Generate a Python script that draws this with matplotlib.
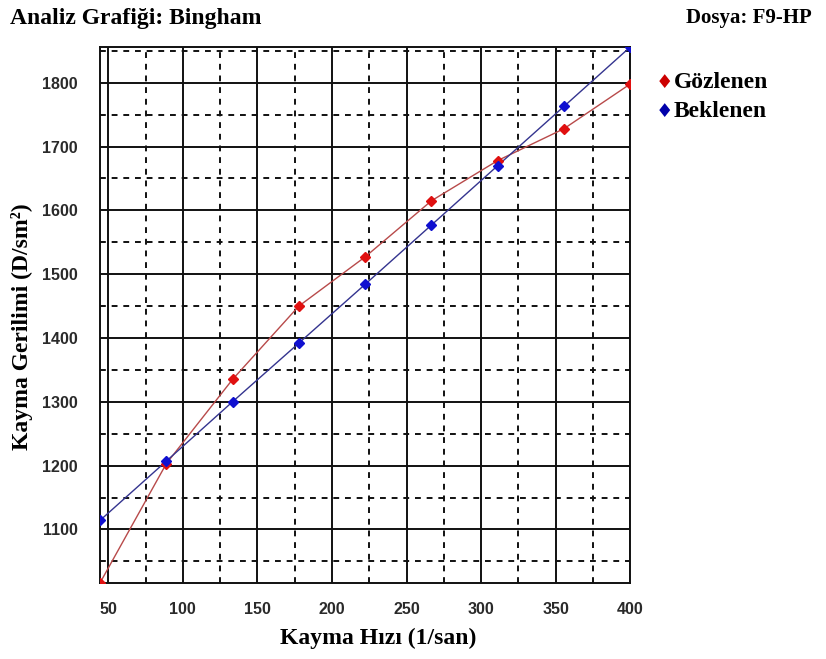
import numpy as np
import matplotlib.pyplot as plt
from matplotlib.ticker import MultipleLocator

# shear rate (1/san) and shear stress (D/sm2)
kayma_hizi = [44.4, 88.9, 133.3, 177.8, 222.2, 266.7, 311.1, 355.6, 400.0]
gozlenen = [1016, 1203, 1335, 1450, 1527, 1615, 1678, 1728, 1798]
beklenen = [1114, 1207, 1300, 1392, 1484, 1577, 1670, 1763, 1856]

x_ticks = [50, 100, 150, 200, 250, 300, 350, 400]
y_ticks = [1100, 1200, 1300, 1400, 1500, 1600, 1700, 1800]

serif = 'Liberation Serif'

fig = plt.figure(figsize=(8.26, 6.59), dpi=100)
ax = fig.add_axes([0.121, 0.1153, 0.642, 0.8134])

ax.plot(kayma_hizi, gozlenen, color='#b84a4a', lw=1.0, zorder=3)
ax.plot(kayma_hizi, beklenen, color='#34348f', lw=1.0, zorder=3)
ax.plot(kayma_hizi, gozlenen, 'D', color='#e01010', ms=5.5, zorder=4)
ax.plot(kayma_hizi, beklenen, 'D', color='#1010d0', ms=5.5, zorder=4)

ax.set_xlim(44.4, 400)
ax.set_ylim(1016, 1856)
ax.set_xticks(x_ticks)
ax.set_yticks(y_ticks)
ax.xaxis.set_minor_locator(MultipleLocator(25))
ax.yaxis.set_minor_locator(MultipleLocator(50))
ax.grid(which='major', color='#111111', lw=1.4, ls='-')
ax.grid(which='minor', color='#111111', lw=1.4, ls=(0, (3, 3)))
ax.set_axisbelow(True)
ax.tick_params(which='both', length=0)
ax.tick_params(axis='x', pad=14)
ax.tick_params(axis='y', pad=16)
for lbl in ax.get_xticklabels() + ax.get_yticklabels():
    lbl.set_fontfamily('Liberation Sans')
    lbl.set_fontweight('bold')
    lbl.set_fontsize(11.5)
    lbl.set_color('#2a2a2a')
for sp in ax.spines.values():
    sp.set_color('#111111')
    sp.set_linewidth(1.4)

# axis titles
fig.text(0.4576, 0.032, 'Kayma Hızı (1/san)', family=serif, fontsize=17,
         fontweight='bold', ha='center', va='center')
fig.text(0.027, 0.505, 'Kayma Gerilimi (D/sm²)', family=serif,
         fontsize=17, fontweight='bold', rotation=90, ha='center', va='center')

fig.text(0.012, 0.972, 'Analiz Grafiği: Bingham', family=serif, fontsize=17,
         fontweight='bold', va='center', ha='left')
fig.text(0.983, 0.972, 'Dosya: F9-HP', family=serif, fontsize=15,
         fontweight='bold', va='center', ha='right')

# legend drawn as marker + text beside the plot
for yy, col, name in [(0.875, '#cc0000', 'Gözlenen'), (0.831, '#0000aa', 'Beklenen')]:
    fig.text(0.794, yy, '\u2666', color=col, fontsize=14, va='center',
             ha='left', family='DejaVu Sans')
    fig.text(0.816, yy, name, family=serif, fontsize=17, fontweight='bold',
             va='center', ha='left')

fig.savefig('out.png', dpi=100)
